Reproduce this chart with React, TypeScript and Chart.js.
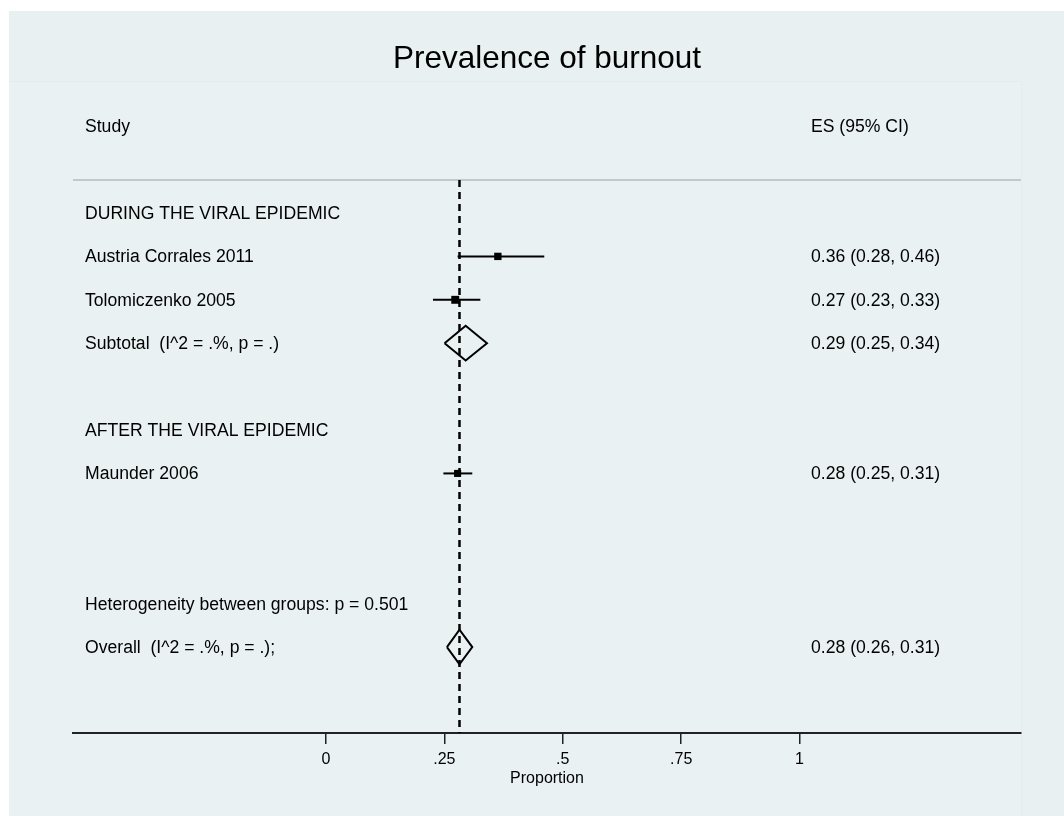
import React, { useEffect, useRef } from "react";
import { Chart, registerables } from "chart.js";

Chart.register(...registerables);

// ---- data ----
const rowLabels = [
  "DURING THE VIRAL EPIDEMIC",
  "Austria Corrales 2011",
  "Tolomiczenko 2005",
  "Subtotal  (I^2 = .%, p = .)",
  "AFTER THE VIRAL EPIDEMIC",
  "Maunder 2006",
  "Heterogeneity between groups: p = 0.501",
  "Overall  (I^2 = .%, p = .);",
];
const labelRows = [1, 2, 3, 4, 6, 7, 10, 11];

const studyRows = [2, 3, 7];
const studyES = [0.363, 0.273, 0.278];
const studyLo = [0.278, 0.226, 0.248];
const studyHi = [0.461, 0.326, 0.309];

const pooledRows = [4, 11];
const pooledES = [0.295, 0.282];
const pooledLo = [0.2505, 0.2555];
const pooledHi = [0.34, 0.309];

const esTexts = [
  "0.36 (0.28, 0.46)",
  "0.27 (0.23, 0.33)",
  "0.29 (0.25, 0.34)",
  "0.28 (0.25, 0.31)",
  "0.28 (0.26, 0.31)",
];
const esRows = [2, 3, 4, 7, 11];

const overallLine = 0.282;
const xTicks = [0, 0.25, 0.5, 0.75, 1];
const xTickLabels = ["0", ".25", ".5", ".75", "1"];
const xMin = -0.534;
const xMax = 1.4675;
const yMin = 0.24;
const yMax = 12.98;
const headerRow = -1;

const FONT = '"Liberation Sans", Arial, Helvetica, sans-serif';

export default function App() {
  const ref = useRef<HTMLCanvasElement | null>(null);

  useEffect(() => {
    const canvas = ref.current;
    if (!canvas) return;

    const bgPlugin = {
      id: "bg",
      beforeDraw(chart: any) {
        const ctx = chart.ctx;
        ctx.save();
        ctx.fillStyle = "#ffffff";
        ctx.fillRect(0, 0, chart.width, chart.height);
        ctx.fillStyle = "#e8f0f2";
        ctx.fillRect(9, 11, chart.width - 9, chart.height - 11);
        ctx.fillStyle = "#e9f1f3";
        ctx.fillRect(9, 81, 1012, chart.height - 81);
        ctx.strokeStyle = "#e4ecef";
        ctx.lineWidth = 1;
        ctx.beginPath();
        ctx.moveTo(9, 81.5);
        ctx.lineTo(1021.5, 81.5);
        ctx.lineTo(1021.5, chart.height);
        ctx.stroke();
        ctx.restore();
      },
      beforeDatasetsDraw(chart: any) {
        const ctx = chart.ctx;
        const a = chart.chartArea;
        ctx.save();
        ctx.strokeStyle = "#c5c8c9";
        ctx.lineWidth = 2;
        ctx.beginPath();
        ctx.moveTo(a.left, a.top);
        ctx.lineTo(a.right, a.top);
        ctx.stroke();
        ctx.restore();
      },
    };

    const textPlugin = {
      id: "texts",
      afterDraw(chart: any) {
        const ctx = chart.ctx;
        const ys = chart.scales.y;
        ctx.save();
        ctx.fillStyle = "#000";
        ctx.font = `17.6px ${FONT}`;
        ctx.textBaseline = "middle";
        ctx.textAlign = "left";
        const off = 1;
        ctx.fillText("Study", 85, ys.getPixelForValue(headerRow) + off);
        ctx.fillText("ES (95% CI)", 811, ys.getPixelForValue(headerRow) + off);
        rowLabels.forEach((t, i) => {
          ctx.fillText(t, 85, ys.getPixelForValue(labelRows[i]) + off);
        });
        esTexts.forEach((t, i) => {
          ctx.fillText(t, 811, ys.getPixelForValue(esRows[i]) + off);
        });
        ctx.restore();
      },
    };

    const datasets: any[] = [];
    datasets.push({
      label: "studies",
      data: studyRows.map((r, i) => ({ x: studyES[i], y: r })),
      pointStyle: "rect",
      pointRadius: [5.2, 5.6, 5.0],
      backgroundColor: "#000",
      borderColor: "#000",
      borderWidth: 0,
      showLine: false,
      clip: false,
    });
    studyRows.forEach((r, i) => {
      datasets.push({
        label: "ci" + i,
        data: [
          { x: studyLo[i], y: r },
          { x: studyHi[i], y: r },
        ],
        showLine: true,
        borderColor: "#000",
        borderWidth: 2,
        pointRadius: 0,
        clip: false,
      });
    });
    pooledRows.forEach((r, i) => {
      const h = 0.4;
      datasets.push({
        label: "pooled" + i,
        data: [
          { x: pooledLo[i], y: r },
          { x: pooledES[i], y: r - h },
          { x: pooledHi[i], y: r },
          { x: pooledES[i], y: r + h },
          { x: pooledLo[i], y: r },
        ],
        showLine: true,
        borderColor: "#000",
        borderWidth: 2,
        borderJoinStyle: "miter",
        pointRadius: 0,
        clip: false,
      });
    });
    datasets.push({
      label: "overall",
      data: [
        { x: overallLine, y: yMin },
        { x: overallLine, y: yMax },
      ],
      showLine: true,
      borderColor: "#000",
      borderWidth: 2.5,
      borderDash: [7, 5],
      pointRadius: 0,
      clip: false,
    });

    const chart = new Chart(canvas, {
      type: "scatter",
      data: { datasets },
      plugins: [bgPlugin, textPlugin],
      options: {
        animation: false,
        responsive: false,
        devicePixelRatio: 1,
        layout: { padding: { left: 73, right: 43, top: 0, bottom: 0 } },
        plugins: {
          legend: { display: false },
          tooltip: { enabled: false },
          title: {
            display: true,
            text: "Prevalence of burnout",
            color: "#000",
            font: { family: FONT, size: 31.5, weight: "normal" },
            padding: { top: 40, bottom: 102.2 },
          },
        },
        scales: {
          x: {
            type: "linear",
            position: "bottom",
            min: xMin,
            max: xMax,
            afterBuildTicks: (scale: any) => {
              scale.ticks = xTicks.map((v) => ({ value: v }));
            },
            afterFit: (scale: any) => {
              scale.height = 83;
            },
            ticks: {
              autoSkip: false,
              maxRotation: 0,
              color: "#000",
              font: { family: FONT, size: 16 },
              padding: 6,
              callback: (_v: any, idx: number) => xTickLabels[idx],
            },
            grid: {
              display: true,
              drawOnChartArea: false,
              drawTicks: true,
              tickLength: 11,
              color: "#222",
              lineWidth: 1.5,
            },
            border: { display: true, color: "#222", width: 2 },
            title: {
              display: true,
              text: "Proportion",
              color: "#000",
              font: { family: FONT, size: 16 },
              padding: { top: 0, bottom: 28 },
            },
          },
          y: {
            type: "linear",
            display: false,
            reverse: true,
            min: yMin,
            max: yMax,
          },
        },
      },
    } as any);

    return () => chart.destroy();
  }, []);

  return (
    <div style={{ position: "absolute", left: 0, top: 0, width: 1064, height: 816 }}>
      <canvas ref={ref} width={1064} height={816} style={{ width: 1064, height: 816, display: "block" }} />
    </div>
  );
}
